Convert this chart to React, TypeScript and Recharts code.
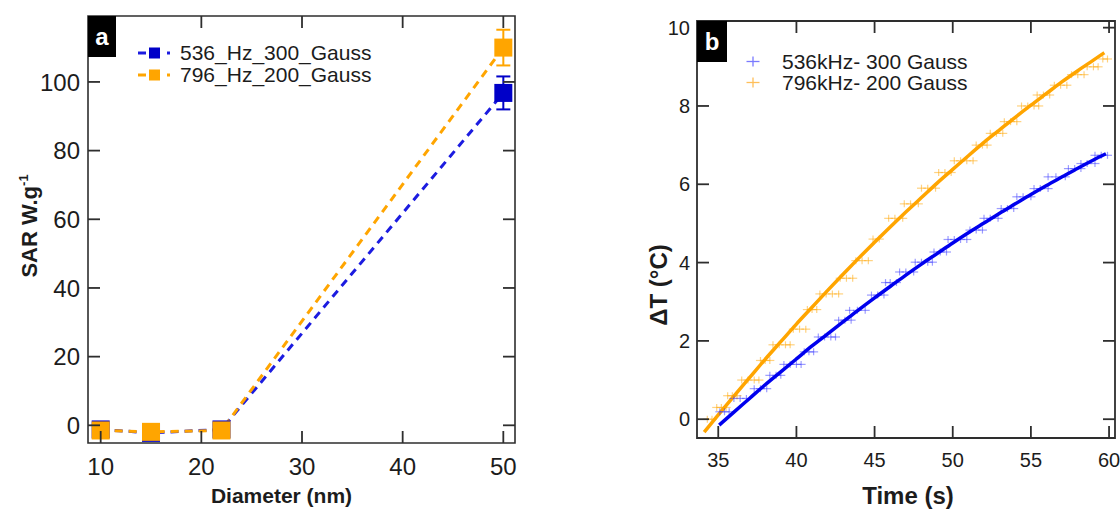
import React from 'react';
import { ComposedChart, Line, XAxis, YAxis, ErrorBar, ReferenceArea } from 'recharts';

const FONT = '"Liberation Sans", Arial, Helvetica, sans-serif';
const INK = '#1c1c1c';
const AXIS = '#2e2e2e';
const BLUE = '#0000c8';
const BLUE_LINE = '#1c1ce0';
const ORANGE = '#ffa500';

// panel a: SAR vs diameter
const diameters = [10, 15, 22, 50];
const sar536 = [-1.2, -2.2, -1.2, 96.8];
const sar536Err = [0, 0, 0, 4.8];
const sar796 = [-1.5, -1.9, -1.5, 110];
const sar796Err = [0, 0, 0, 5.2];
const diameterDomain = [8.74, 51.16];
const sarDomain = [-5.15, 119.2];
const diameterTicks = [10, 20, 30, 40, 50];
const sarTicks = [0, 20, 40, 60, 80, 100];
const legendA = ['536_Hz_300_Gauss', '796_Hz_200_Gauss'];

// panel b: heating curves (measured points)
const time536 = [
  35.1, 35.4, 35.7, 36.0, 36.4, 36.8, 37.3, 37.7, 38.1, 38.3, 38.7, 39.0,
  39.2, 39.6, 40.0, 40.3, 40.5, 40.8, 41.1, 41.4, 41.8, 42.2, 42.5,
  42.7, 43.1, 43.5, 43.4, 43.9, 44.4, 44.8, 45.2, 45.6, 45.7, 46.0, 46.4,
  46.6, 47.0, 47.5, 47.6, 48.0, 48.4, 48.7, 48.8, 49.2, 49.6,
  49.7, 50.1, 50.5, 50.9, 51.1, 51.5, 51.9, 52.0, 52.4, 52.9,
  53.1, 53.5, 53.9, 54.1, 54.5, 55.0, 55.2, 55.6, 56.1, 56.1, 56.6, 57.2,
  57.4, 57.8, 58.2, 58.2, 58.6, 59.1, 59.1, 59.5, 59.9,
];
const temp536 = [
  0.19, 0.19, 0.19, 0.53, 0.53, 0.53, 0.78, 0.78, 0.78, 1.12, 1.12, 1.12,
  1.4, 1.4, 1.4, 1.4, 1.72, 1.72, 1.72, 2.1, 2.1, 2.1, 2.1,
  2.53, 2.53, 2.53, 2.78, 2.78, 2.78, 3.17, 3.17, 3.17, 3.49, 3.49, 3.49,
  3.76, 3.76, 3.76, 4.01, 4.01, 4.01, 4.01, 4.27, 4.27, 4.27,
  4.59, 4.59, 4.59, 4.59, 4.83, 4.83, 4.83, 5.13, 5.13, 5.13,
  5.38, 5.38, 5.38, 5.68, 5.68, 5.68, 5.89, 5.89, 5.89, 6.19, 6.19, 6.19,
  6.4, 6.4, 6.4, 6.53, 6.53, 6.53, 6.74, 6.74, 6.74,
];
const time796 = [
  34.3, 34.6, 34.9, 35.2, 35.5, 35.6, 35.9, 36.2, 36.5, 36.9, 37.3, 37.6,
  37.7, 38.0, 38.3, 38.5, 38.9, 39.3, 39.6, 39.8, 40.2, 40.6, 40.7, 41.0, 41.3,
  41.5, 41.9, 42.3, 42.7, 42.8, 43.2, 43.6, 43.8, 44.2, 44.6, 44.9, 45.3,
  45.9, 46.3, 46.8, 46.9, 47.3, 47.8, 48.0, 48.4, 48.9, 49.1, 49.5, 49.9,
  50.1, 50.5, 50.9, 51.3, 51.5, 51.9, 52.2, 52.4, 52.8, 53.2, 53.3, 53.7, 54.1,
  54.4, 54.8, 55.2, 55.5, 55.4, 55.8, 56.2, 56.5, 56.9, 57.3,
  57.6, 58.0, 58.4, 58.6, 59.0, 59.3, 59.6, 59.9,
];
const temp796 = [
  0, 0, 0.3, 0.3, 0.3, 0.6, 0.6, 0.6, 1.0, 1.0, 1.0, 1.0,
  1.5, 1.5, 1.5, 1.9, 1.9, 1.9, 1.9, 2.3, 2.3, 2.3, 2.8, 2.8, 2.8,
  3.2, 3.2, 3.2, 3.2, 3.6, 3.6, 3.6, 4.05, 4.05, 4.05, 4.6, 4.6,
  5.13, 5.13, 5.13, 5.5, 5.5, 5.5, 5.9, 5.9, 5.9, 6.3, 6.3, 6.3,
  6.6, 6.6, 6.6, 6.6, 7.0, 7.0, 7.0, 7.3, 7.3, 7.3, 7.6, 7.6, 7.6,
  8.0, 8.0, 8.0, 8.0, 8.28, 8.28, 8.28, 8.53, 8.53, 8.53,
  8.8, 8.8, 8.8, 9.0, 9.0, 9.0, 9.2, 9.2,
];

// panel b: fitted curves
const fitTime536 = [35.06, 36, 37, 38, 39, 40, 41, 42, 43, 44, 45, 46, 47, 48, 49, 50, 51, 52, 53, 54, 55, 56, 57, 58, 59, 59.8];
const fitTemp536 = [-0.15, 0.18, 0.53, 0.88, 1.21, 1.54, 1.87, 2.18, 2.49, 2.8, 3.1, 3.39, 3.68, 3.96, 4.23, 4.5, 4.76, 5.01, 5.26, 5.5, 5.74, 5.97, 6.19, 6.41, 6.62, 6.78];
const fitTime796 = [34.1, 35, 36, 37, 38, 39, 40, 41, 42, 43, 44, 45, 46, 47, 48, 49, 50, 51, 52, 53, 54, 55, 56, 57, 58, 59, 59.7];
const fitTemp796 = [-0.33, 0.11, 0.59, 1.06, 1.53, 1.98, 2.43, 2.86, 3.29, 3.71, 4.12, 4.52, 4.91, 5.29, 5.66, 6.03, 6.38, 6.73, 7.07, 7.39, 7.71, 8.02, 8.32, 8.62, 8.9, 9.17, 9.36];
const timeDomain = [33.64, 60.38];
const tempDomain = [-0.48, 10.17];
const timeTicks = [35, 40, 45, 50, 55, 60];
const tempTicks = [0, 2, 4, 6, 8, 10];
const legendB = ['536kHz- 300 Gauss', '796kHz- 200 Gauss'];

const sarRows = diameters.map((d, i) => ({ d, a: sar536[i], ea: sar536Err[i], b: sar796[i], eb: sar796Err[i] }));

// lower layer of panel b: measured points and the 796 kHz fit
const pointRows = [
  ...time536.map((t, i) => ({ t, s536: temp536[i] })),
  ...time796.map((t, i) => ({ t, s796: temp796[i] })),
  ...fitTime796.map((t, i) => ({ t, f796: fitTemp796[i] })),
].sort((p, q) => p.t - q.t);
// upper layer of panel b: frame, ticks and the 536 kHz fit
const fit536Rows = fitTime536.map((t, i) => ({ t, f536: fitTemp536[i] }));

// with tickSize/tickMargin 0 the tick renderer gets the point on the frame itself
const axisBase = { axisLine: false, tickLine: false, tickSize: 0, tickMargin: 0, allowDataOverflow: true, type: 'number' as const };

// inward tick mark, plus its label when fontSize is given
function FrameTick({ x, y, payload, side, fontSize, gap, color }: any) {
  const len = 12;
  const px = Number(x);
  const py = Number(y);
  let mark = null;
  let label = null;
  if (side === 'bottom') {
    mark = <line x1={px} x2={px} y1={py} y2={py - len} />;
    label = <text x={px} y={py + gap} dy="0.71em" textAnchor="middle">{payload.value}</text>;
  } else if (side === 'top') {
    mark = <line x1={px} x2={px} y1={py} y2={py + len} />;
  } else if (side === 'left') {
    mark = <line x1={px} x2={px + len} y1={py} y2={py} />;
    label = <text x={px - gap} y={py} dy="0.36em" textAnchor="end">{payload.value}</text>;
  } else {
    mark = <line x1={px} x2={px - len} y1={py} y2={py} />;
  }
  return (
    <g>
      <g stroke={color || AXIS} strokeWidth={1.8}>{mark}</g>
      {fontSize ? <g fill={INK} fontSize={fontSize} fontFamily={FONT} stroke="none">{label}</g> : null}
    </g>
  );
}

function SquareDot({ cx, cy, fill }: any) {
  if (cx == null || cy == null) return null;
  return <rect x={cx - 9} y={cy - 9} width={18} height={18} fill={fill} />;
}

function PlusMark({ cx, cy, color }: any) {
  if (cx == null || cy == null || Number.isNaN(cy)) return null;
  return (
    <g stroke={color} strokeWidth={1.2} strokeOpacity={0.5}>
      <line x1={cx - 4.5} y1={cy} x2={cx + 4.5} y2={cy} />
      <line x1={cx} y1={cy - 3.5} x2={cx} y2={cy + 3.5} />
    </g>
  );
}

function XTitle({ viewBox, text, dx, dy, size }: any) {
  const vb = viewBox || { x: 0, y: 0, width: 0, height: 0 };
  return (
    <text x={vb.x + vb.width / 2 + dx} y={vb.y + dy} textAnchor="middle"
      fontFamily={FONT} fontWeight="bold" fontSize={size} fill={INK}>
      {text}
    </text>
  );
}

function YTitle({ viewBox, children, bx, cy, size }: any) {
  const vb = viewBox || { x: 0, y: 0, width: 0, height: 0 };
  const x = vb.x + bx;
  const y = vb.y + cy;
  return (
    <text x={x} y={y} transform={`rotate(-90, ${x}, ${y})`} textAnchor="middle"
      fontFamily={FONT} fontWeight="bold" fontSize={size} fill={INK}>
      {children}
    </text>
  );
}

function PanelTag({ left, top, width, height, letter }: any) {
  return (
    <div style={{
      position: 'absolute', left, top, width, height, background: '#000', color: '#fff',
      fontWeight: 'bold', fontSize: 24, display: 'flex', alignItems: 'center', justifyContent: 'center',
    }}>{letter}</div>
  );
}

const marginB = { top: 20, right: 4, bottom: 0, left: 47 };

// frame + ticks + one fit, built the same way as the chart that drew its frame in testing
function HeatFrame() {
  return (
    <ComposedChart width={540} height={509} data={fit536Rows} margin={marginB}>
      <XAxis xAxisId="bottom" dataKey="t" domain={timeDomain} ticks={timeTicks} {...axisBase} height={71}
        tick={<FrameTick side="bottom" fontSize={20} gap={15} color={AXIS} />} />
      <XAxis xAxisId="top" orientation="top" dataKey="t" domain={timeDomain} ticks={timeTicks} {...axisBase}
        height={1} tick={<FrameTick side="top" color={AXIS} />} />
      <YAxis yAxisId="left" domain={tempDomain} ticks={tempTicks} {...axisBase} width={70}
        tick={<FrameTick side="left" fontSize={20} gap={7} color={AXIS} />} />
      <YAxis yAxisId="right" orientation="right" domain={tempDomain} ticks={tempTicks} {...axisBase}
        width={1} tick={<FrameTick side="right" color={AXIS} />} />
      <ReferenceArea xAxisId="bottom" yAxisId="left" x1={timeDomain[0]} x2={timeDomain[1]}
        y1={tempDomain[0]} y2={tempDomain[1]} fill={AXIS} fillOpacity={0} stroke={AXIS} strokeWidth={1.8} strokeOpacity={1}
        ifOverflow="visible" />
      <Line xAxisId="bottom" yAxisId="left" dataKey="f536" type="monotone" stroke="#0000ee"
        strokeWidth={3.5} dot={false} isAnimationActive={false} />
    </ComposedChart>
  );
}

export default function App() {
  return (
    <div style={{ position: 'absolute', left: 0, top: 0, width: 1120, height: 509, background: '#fff', fontFamily: FONT, overflow: 'hidden' }}>
      {/* panel a */}
      <div style={{ position: 'absolute', left: 0, top: 0 }}>
        <ComposedChart width={560} height={509} data={sarRows} margin={{ top: 15, right: 44, bottom: 0, left: 18 }}>
          <XAxis xAxisId="bottom" dataKey="d" domain={diameterDomain} ticks={diameterTicks} {...axisBase} height={66}
            tick={<FrameTick side="bottom" fontSize={24} gap={15} />}
            label={<XTitle text="Diameter (nm)" dx={-20} dy={60} size={21} />} />
          <XAxis xAxisId="top" orientation="top" dataKey="d" domain={diameterDomain} ticks={diameterTicks} {...axisBase}
            height={1} tick={<FrameTick side="top" />} />
          <YAxis yAxisId="left" domain={sarDomain} ticks={sarTicks} {...axisBase} width={70}
            tick={<FrameTick side="left" fontSize={24} gap={8} />}
            label={
              <YTitle bx={19} cy={210} size={22}>
                SAR W.g<tspan dy={-9} fontSize={13}>-1</tspan>
              </YTitle>
            } />
          <YAxis yAxisId="right" orientation="right" domain={sarDomain} ticks={sarTicks} {...axisBase}
            width={1} tick={<FrameTick side="right" />} />
          <ReferenceArea xAxisId="bottom" yAxisId="left" x1={diameterDomain[0]} x2={diameterDomain[1]}
            y1={sarDomain[0]} y2={sarDomain[1]} fill="none" fillOpacity={0} stroke={AXIS} strokeWidth={1.6} strokeOpacity={1}
            ifOverflow="visible" />
          <Line xAxisId="bottom" yAxisId="left" dataKey="a" stroke={BLUE_LINE} strokeWidth={3} strokeDasharray="8 6"
            isAnimationActive={false}
            dot={(p: any) => <SquareDot key={`a${p.index}`} cx={p.cx} cy={p.cy} fill={BLUE} />}>
            <ErrorBar dataKey="ea" direction="y" width={7} stroke={BLUE} strokeWidth={2} />
          </Line>
          <Line xAxisId="bottom" yAxisId="left" dataKey="b" stroke={ORANGE} strokeWidth={3} strokeDasharray="8 6"
            isAnimationActive={false}
            dot={(p: any) => <SquareDot key={`b${p.index}`} cx={p.cx} cy={p.cy} fill={ORANGE} />}>
            <ErrorBar dataKey="eb" direction="y" width={7} stroke={ORANGE} strokeWidth={2} />
          </Line>
        </ComposedChart>
      </div>
      <PanelTag left={88} top={16} width={28} height={41} letter="a" />
      <div style={{ position: 'absolute', left: 138, top: 42, fontSize: 21, color: INK }}>
        {legendA.map((name, i) => {
          const c = i === 0 ? BLUE : ORANGE;
          return (
            <div key={name} style={{ display: 'flex', alignItems: 'center', height: 22 }}>
              <svg width={42} height={22}>
                <line x1={0} x2={8} y1={11} y2={11} stroke={i === 0 ? BLUE_LINE : ORANGE} strokeWidth={3} />
                <rect x={11} y={5.5} width={11} height={11} fill={c} />
                <line x1={29} x2={32} y1={11} y2={11} stroke={i === 0 ? BLUE_LINE : ORANGE} strokeWidth={3} />
              </svg>
              <span>{name}</span>
            </div>
          );
        })}
      </div>

      {/* panel b, lower layer: measured points, 796 kHz fit and axis titles */}
      <div style={{ position: 'absolute', left: 580, top: 0 }}>
        <ComposedChart width={540} height={509} data={pointRows} margin={marginB}>
          <XAxis xAxisId="bottom" dataKey="t" domain={timeDomain} ticks={timeTicks} {...axisBase} height={71}
            tick={false} label={<XTitle text="Time (s)" dx={2} dy={66} size={24} />} />
          <XAxis xAxisId="top" orientation="top" dataKey="t" domain={timeDomain} ticks={timeTicks} {...axisBase}
            height={1} tick={false} />
          <YAxis yAxisId="left" domain={tempDomain} ticks={tempTicks} {...axisBase} width={70}
            tick={false} label={<YTitle bx={40} cy={264} size={24}>ΔT (°C)</YTitle>} />
          <YAxis yAxisId="right" orientation="right" domain={tempDomain} ticks={tempTicks} {...axisBase}
            width={1} tick={false} />
          <Line xAxisId="bottom" yAxisId="left" dataKey="s536" stroke="none" strokeWidth={0} isAnimationActive={false}
            dot={(p: any) => <PlusMark key={`p${p.index}`} cx={p.cx} cy={p.cy} color="#3a3aff" />} />
          <Line xAxisId="bottom" yAxisId="left" dataKey="s796" stroke="none" strokeWidth={0} isAnimationActive={false}
            dot={(p: any) => <PlusMark key={`q${p.index}`} cx={p.cx} cy={p.cy} color="#ffa500" />} />
          <Line xAxisId="bottom" yAxisId="left" dataKey="f796" type="monotone" connectNulls stroke={ORANGE}
            strokeWidth={3.5} dot={false} isAnimationActive={false} />
        </ComposedChart>
      </div>

      {/* panel b, upper layer */}
      <div style={{ position: 'absolute', left: 580, top: 0 }}>
        <HeatFrame />
      </div>
      <PanelTag left={697} top={21} width={30} height={41} letter="b" />
      <div style={{ position: 'absolute', left: 746, top: 51, fontSize: 21, color: INK }}>
        {legendB.map((name, i) => {
          const c = i === 0 ? '#7a7aff' : '#ffbf5a';
          return (
            <div key={name} style={{ display: 'flex', alignItems: 'center', height: 21 }}>
              <svg width={36} height={21}>
                <line x1={0.5} x2={13.5} y1={10.5} y2={10.5} stroke={c} strokeWidth={1.3} />
                <line x1={7} x2={7} y1={5.5} y2={15.5} stroke={c} strokeWidth={1.3} />
              </svg>
              <span>{name}</span>
            </div>
          );
        })}
      </div>
    </div>
  );
}
